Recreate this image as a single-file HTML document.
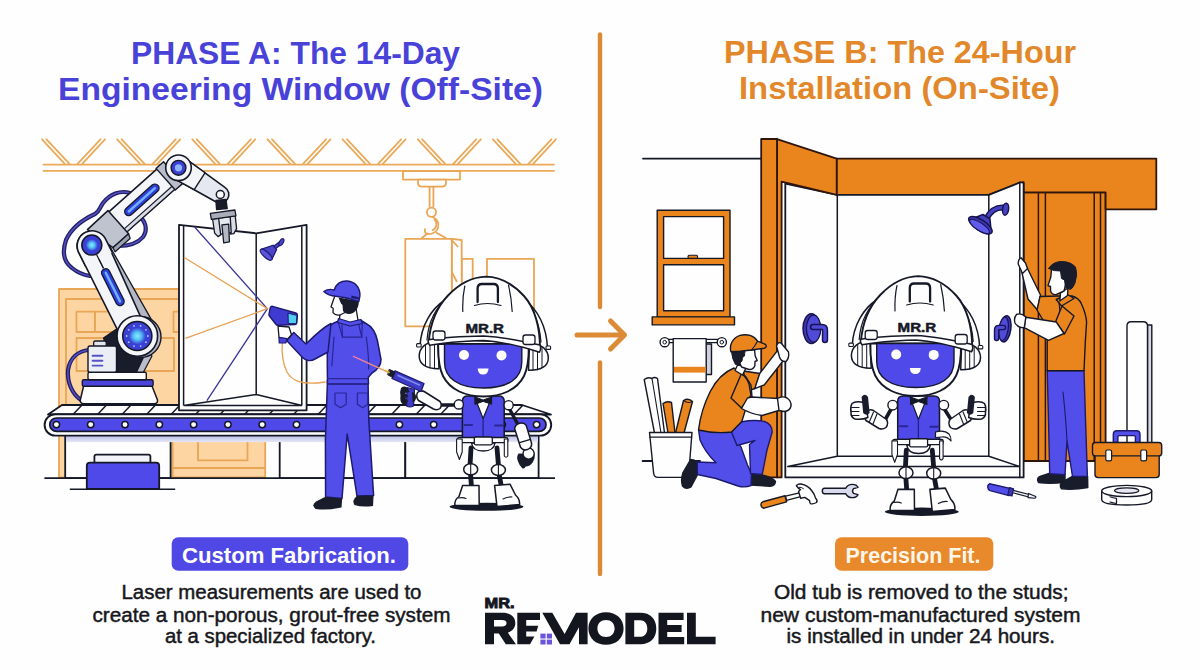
<!DOCTYPE html>
<html><head><meta charset="utf-8"><title>Phase A / Phase B</title>
<style>
html,body{margin:0;padding:0;background:#fefefe;}
body{width:1200px;height:670px;overflow:hidden;font-family:"Liberation Sans",sans-serif;}
svg{display:block;font-family:"Liberation Sans",sans-serif;}
</style></head><body>
<svg width="1200" height="670" viewBox="0 0 1200 670">
<rect width="1200" height="670" fill="#fefefe"/>
<!-- divider -->
<g stroke="#dc8a35" stroke-width="4.4" stroke-linecap="round" fill="none">
<line x1="600" y1="34.5" x2="600" y2="307"/>
<line x1="600" y1="362.5" x2="600" y2="574"/>
<line x1="577" y1="335" x2="623" y2="335" stroke-width="5"/>
<polyline points="610.5,321 624.5,335 610.5,349" stroke-width="5" stroke-linejoin="round"/>
</g>
<!-- titles -->
<g font-weight="700" font-size="31.5px" fill="#4942d8">
<text x="131" y="63.7" textLength="329" lengthAdjust="spacingAndGlyphs">PHASE A: The 14-Day</text>
<text x="58" y="99.5" textLength="485" lengthAdjust="spacingAndGlyphs">Engineering Window (Off-Site)</text>
</g>
<g font-weight="700" font-size="31.5px" fill="#e2882b">
<text x="724" y="63.4" textLength="352" lengthAdjust="spacingAndGlyphs">PHASE B: The 24-Hour</text>
<text x="739" y="99.2" textLength="321" lengthAdjust="spacingAndGlyphs">Installation (On-Site)</text>
</g>
<!-- pills -->
<rect x="171.7" y="537.3" width="236.6" height="33.4" rx="6.5" fill="#5048e5"/>
<text x="182" y="562.7" font-weight="700" font-size="22px" fill="#ffffff" textLength="214" lengthAdjust="spacingAndGlyphs">Custom Fabrication.</text>
<rect x="835" y="537.3" width="158.3" height="33.4" rx="6.5" fill="#e88a2c"/>
<text x="845.5" y="562.7" font-weight="700" font-size="22px" fill="#fff6e8" textLength="135" lengthAdjust="spacingAndGlyphs">Precision Fit.</text>
<!-- body text -->
<g font-size="19.6px" fill="#17171c" stroke="#17171c" stroke-width="0.45">
<text x="121.5" y="599" textLength="300" lengthAdjust="spacingAndGlyphs">Laser measurements are used to</text>
<text x="92.5" y="621.6" textLength="358" lengthAdjust="spacingAndGlyphs">create a non-porous, grout-free system</text>
<text x="165" y="643.3" textLength="211" lengthAdjust="spacingAndGlyphs">at a specialized factory.</text>
<text x="774" y="599" textLength="294.5" lengthAdjust="spacingAndGlyphs">Old tub is removed to the studs;</text>
<text x="760.5" y="621.6" textLength="320" lengthAdjust="spacingAndGlyphs">new custom-manufactured system</text>
<text x="786.5" y="643.3" textLength="268.5" lengthAdjust="spacingAndGlyphs">is installed in under 24 hours.</text>
</g>
<!-- truss -->
<g stroke="#ebaa5a" stroke-width="1.8" fill="none" stroke-linecap="round">
<line x1="42.0" y1="139.3" x2="65.0" y2="164.2"/>
<line x1="105.0" y1="139.3" x2="82.0" y2="164.2"/>
<line x1="46.5" y1="139.3" x2="69.7" y2="164.2"/>
<line x1="100.5" y1="139.3" x2="77.3" y2="164.2"/>
<line x1="117.2" y1="139.3" x2="140.2" y2="164.2"/>
<line x1="180.2" y1="139.3" x2="157.2" y2="164.2"/>
<line x1="121.7" y1="139.3" x2="144.8" y2="164.2"/>
<line x1="175.7" y1="139.3" x2="152.5" y2="164.2"/>
<line x1="192.3" y1="139.3" x2="215.3" y2="164.2"/>
<line x1="255.3" y1="139.3" x2="232.3" y2="164.2"/>
<line x1="196.8" y1="139.3" x2="220.0" y2="164.2"/>
<line x1="250.8" y1="139.3" x2="227.6" y2="164.2"/>
<line x1="267.5" y1="139.3" x2="290.5" y2="164.2"/>
<line x1="330.5" y1="139.3" x2="307.5" y2="164.2"/>
<line x1="272.0" y1="139.3" x2="295.2" y2="164.2"/>
<line x1="326.0" y1="139.3" x2="302.8" y2="164.2"/>
<line x1="342.6" y1="139.3" x2="365.6" y2="164.2"/>
<line x1="405.6" y1="139.3" x2="382.6" y2="164.2"/>
<line x1="347.1" y1="139.3" x2="370.3" y2="164.2"/>
<line x1="401.1" y1="139.3" x2="377.9" y2="164.2"/>
<line x1="417.8" y1="139.3" x2="440.8" y2="164.2"/>
<line x1="480.8" y1="139.3" x2="457.8" y2="164.2"/>
<line x1="422.2" y1="139.3" x2="445.4" y2="164.2"/>
<line x1="476.2" y1="139.3" x2="453.1" y2="164.2"/>
<line x1="492.9" y1="139.3" x2="515.9" y2="164.2"/>
<line x1="555.9" y1="139.3" x2="532.9" y2="164.2"/>
<line x1="497.4" y1="139.3" x2="520.6" y2="164.2"/>
<line x1="551.4" y1="139.3" x2="528.2" y2="164.2"/>
<line x1="43.5" y1="164.6" x2="554" y2="164.6"/>
<line x1="43.5" y1="170.9" x2="554" y2="170.9"/>
</g>
<!-- hoist and crates -->
<g stroke="#e8a656" stroke-width="1.8" fill="#fefefe" stroke-linejoin="round">
<rect x="403" y="171" width="57" height="8.6"/>
<path d="M418,179.6 H446 V183 Q446,186.6 442,186.6 H422 Q418,186.6 418,183 Z"/>
<line x1="429.6" y1="186.6" x2="429.6" y2="207.5"/><line x1="433.4" y1="186.6" x2="433.4" y2="207.5"/>
<circle cx="431.5" cy="212.3" r="4.6"/>
<path d="M432,217 C440,219 441,230 432,233.5 C427,235.5 423,232 425.5,228.5" fill="none" stroke-width="1.6"/>
<path d="M434,219 C437.5,222 437.5,228 432,230.5" fill="none"/>
<path d="M421,238.8 L428,233 M447,238.8 L436,232.5" fill="none"/>
<!-- crate 3 (right) -->
<rect x="487" y="258.8" width="47" height="70"/>
<!-- crate 2 small -->
<rect x="461.7" y="258.8" width="11" height="70"/>
<!-- crate 1 side -->
<path d="M451.8,238.8 L461.7,240 V327 H451.8 Z"/>
<path d="M451.8,240 L458,247 M451.8,272 L457,282" fill="none"/>
<!-- crate 1 front -->
<rect x="405.3" y="238.8" width="46.5" height="87.6"/>
</g>
<!-- peach door -->
<g stroke="#e8a656" stroke-width="1.8" fill="#fdd5a3" stroke-linejoin="round">
<rect x="59" y="289" width="120" height="188.5"/>
<rect x="172.6" y="430" width="92.6" height="47.5"/>
<path d="M66,414 V299 H179" fill="none"/>
<rect x="76.5" y="311.7" width="18.5" height="20.3" fill="none"/>
<rect x="95" y="311.7" width="30" height="20.3" fill="none"/>
<rect x="173.5" y="311.7" width="6" height="20.3" fill="none"/>
<rect x="76.5" y="338" width="97.5" height="33" fill="none"/>
<path d="M198,436 V460.4 H247.5 V436" fill="none"/>
<line x1="172.6" y1="468" x2="265" y2="468"/>
</g>
<!-- conveyor -->
<g stroke="#151826" stroke-width="1.8" fill="#fefefe" stroke-linejoin="round">
<rect x="65.2" y="436" width="105.4" height="42.2"/>
<rect x="279.7" y="436" width="125.6" height="42.2"/>
<rect x="405.3" y="436" width="133.3" height="42.2"/>
</g>
<line x1="44.4" y1="478.2" x2="555" y2="478.2" stroke="#151826" stroke-width="1.8"/>
<defs><linearGradient id="cshadow" x1="0" y1="0" x2="0" y2="1"><stop offset="0" stop-color="#b9bde6"/><stop offset="1" stop-color="#e6e8f6"/></linearGradient></defs>
<rect x="66" y="435.5" width="472" height="6.6" fill="url(#cshadow)"/>
<path d="M62,405 H522 L551,414.5 H48 Z" fill="#fefefe" stroke="#151826" stroke-width="1.8" stroke-linejoin="round"/>
<g stroke="#151826" stroke-width="1.5">
<line x1="82.0" y1="405" x2="73.0" y2="414.5"/>
<line x1="106.5" y1="405" x2="97.5" y2="414.5"/>
<line x1="131.0" y1="405" x2="122.0" y2="414.5"/>
<line x1="155.5" y1="405" x2="146.5" y2="414.5"/>
<line x1="180.0" y1="405" x2="171.0" y2="414.5"/>
<line x1="204.5" y1="405" x2="195.5" y2="414.5"/>
<line x1="229.0" y1="405" x2="220.0" y2="414.5"/>
<line x1="253.5" y1="405" x2="244.5" y2="414.5"/>
<line x1="278.0" y1="405" x2="269.0" y2="414.5"/>
<line x1="302.5" y1="405" x2="293.5" y2="414.5"/>
<line x1="327.0" y1="405" x2="318.0" y2="414.5"/>
<line x1="351.5" y1="405" x2="342.5" y2="414.5"/>
<line x1="376.0" y1="405" x2="367.0" y2="414.5"/>
<line x1="400.5" y1="405" x2="391.5" y2="414.5"/>
<line x1="425.0" y1="405" x2="416.0" y2="414.5"/>
<line x1="449.5" y1="405" x2="440.5" y2="414.5"/>
<line x1="474.0" y1="405" x2="465.0" y2="414.5"/>
<line x1="498.5" y1="405" x2="489.5" y2="414.5"/>
<line x1="523.0" y1="405" x2="514.0" y2="414.5"/>
</g>
<rect x="44.6" y="414.2" width="506.6" height="21.4" rx="10.7" fill="#fefefe" stroke="#151826" stroke-width="1.9"/>
<rect x="49.8" y="418" width="496.2" height="13.4" rx="6.7" fill="#4f49ea" stroke="#151826" stroke-width="1.7"/>
<g fill="#fefefe" stroke="#151826" stroke-width="1.5">
<circle cx="56.4" cy="424.6" r="3.2"/>
<circle cx="90.7" cy="424.6" r="3.2"/>
<circle cx="125.0" cy="424.6" r="3.2"/>
<circle cx="159.3" cy="424.6" r="3.2"/>
<circle cx="193.6" cy="424.6" r="3.2"/>
<circle cx="227.9" cy="424.6" r="3.2"/>
<circle cx="262.2" cy="424.6" r="3.2"/>
<circle cx="296.5" cy="424.6" r="3.2"/>
<circle cx="330.8" cy="424.6" r="3.2"/>
<circle cx="365.1" cy="424.6" r="3.2"/>
<circle cx="399.4" cy="424.6" r="3.2"/>
<circle cx="433.7" cy="424.6" r="3.2"/>
<circle cx="468.0" cy="424.6" r="3.2"/>
<circle cx="502.3" cy="424.6" r="3.2"/>
<circle cx="536.6" cy="424.6" r="3.2"/>
</g>
<rect x="94.4" y="454.6" width="56" height="10" rx="2" fill="#f3f4fa" stroke="#151826" stroke-width="1.8"/>
<path d="M86.8,488.9 V466 Q86.8,462.7 90,462.7 H156 Q159.2,462.7 159.2,466 V488.9 Z" fill="#4f49ea" stroke="#151826" stroke-width="1.8"/>
<line x1="69.8" y1="489.2" x2="175.2" y2="489.2" stroke="#151826" stroke-width="1.6"/>
<!-- shower panel on conveyor -->
<g stroke="#151826" stroke-width="1.8" stroke-linejoin="round" fill="#fefefe">
<path d="M179,224.8 L256.2,233.3 L306.6,224.8 V410.3 H179 Z"/>
<path d="M183.6,405.4 H302 M183.6,405.4 L256.2,394.5 L302,405.4 M256.2,233.3 V394.5" fill="none" stroke-width="1.5"/>
<path d="M183.6,226 V405.4 M301.8,226.5 V405.4" fill="none" stroke-width="1.5"/>
</g>
<!-- laser lines -->
<g fill="none" stroke-width="1.3">
<path d="M194.6,227 L267.4,308.7 L206.9,400.6" stroke="#3a3799"/>
<path d="M183.9,257.2 L267.4,308.7 L185.3,338.4" stroke="#e8a052"/>
</g>
<!-- small shower head -->
<g stroke="#1e1a6e" stroke-width="1.2" fill="#4a45c8" stroke-linejoin="round" stroke-linecap="round">
<path d="M274.5,247.5 L280.5,243" fill="none" stroke-width="4.2"/>
<path d="M274.5,247.5 L280.5,243" fill="none" stroke="#4a45c8" stroke-width="2"/>
<ellipse cx="281.4" cy="242.2" rx="1.9" ry="3.8" transform="rotate(28 281.4 242.2)"/>
<path d="M261,249.4 L273,245.2 L276.6,249.6 L271.8,259.6 Z"/>
<ellipse cx="266.2" cy="254.7" rx="7.5" ry="2.7" fill="#5a55e0" transform="rotate(42 266.2 254.7)"/>
</g>
<!-- robot arm -->
<defs><radialGradient id="jglow"><stop offset="0" stop-color="#8fe6ff"/><stop offset="0.45" stop-color="#57c4f5"/><stop offset="1" stop-color="#3a3fd6"/></radialGradient><linearGradient id="pillg" x1="0" y1="0" x2="1" y2="0"><stop offset="0" stop-color="#2e3fd8"/><stop offset="0.5" stop-color="#6aa8ff"/><stop offset="1" stop-color="#2e3fd8"/></linearGradient></defs>
<path d="M130,193 C120,190 110,194 103,203 C99,209 99,212 95,214 C84,219 72,227 66,240 C62,252 64,262 72,268 C78,273 84,275 90,276" fill="none" stroke="#232066" stroke-width="4.2" stroke-linecap="round"/><path d="M130,193 C120,190 110,194 103,203 C99,209 99,212 95,214 C84,219 72,227 66,240 C62,252 64,262 72,268 C78,273 84,275 90,276" fill="none" stroke="#5550c0" stroke-width="1.5" stroke-linecap="round"/>
<path d="M138,216 C146,220 148,230 143,237 C138,243 128,246 118,246" fill="none" stroke="#232066" stroke-width="4.2" stroke-linecap="round"/><path d="M138,216 C146,220 148,230 143,237 C138,243 128,246 118,246" fill="none" stroke="#5550c0" stroke-width="1.5" stroke-linecap="round"/>
<path d="M89,350 C78,351 70,358 68,370 C67,382 72,394 81,400" fill="none" stroke="#232066" stroke-width="4.2" stroke-linecap="round"/><path d="M89,350 C78,351 70,358 68,370 C67,382 72,394 81,400" fill="none" stroke="#5550c0" stroke-width="1.5" stroke-linecap="round"/>
<path d="M83.6,386 H152 L157.5,400 Q158,403.8 154,403.8 H84 Q80,403.8 80.3,400 Z" fill="#fefefe" stroke="#151826" stroke-width="1.5" stroke-linejoin="round"/>
<rect x="82.3" y="379.7" width="70.8" height="6.6" rx="1.5" fill="#4a44dc" stroke="#151826" stroke-width="1.4"/>
<rect x="88" y="372.3" width="58.3" height="7.4" rx="1.5" fill="#fefefe" stroke="#151826" stroke-width="1.4"/>
<path d="M103.5,338 L118,328 L150,340 L148,358 L140,372 H114 Z" fill="#181c2b" stroke="#151826" stroke-width="1.2" stroke-linejoin="round"/>
<path d="M146,352 L152,356 L143.5,372 H136.5 Z" fill="#b9bdc9" stroke="#151826" stroke-width="1.2" stroke-linejoin="round"/>
<rect x="93.7" y="341" width="12.5" height="6" rx="1.5" fill="#e3e5ee" stroke="#151826" stroke-width="1.3"/>
<rect x="88" y="346" width="28.5" height="26.2" rx="2" fill="#eceef5" stroke="#151826" stroke-width="1.4"/>
<g stroke="#5552c6" stroke-width="1.9" stroke-linecap="round"><line x1="92.6" y1="355.7" x2="102.4" y2="355.7"/><line x1="92.6" y1="360.7" x2="102.4" y2="360.7"/><line x1="92.6" y1="365.6" x2="102.4" y2="365.6"/></g>
<polygon points="109.2,245.3 156.5,328.6 152.5,341.8 104.3,250.0" fill="#b4b8c5" stroke="#151826" stroke-width="1.3" stroke-linejoin="round"/>
<path d="M78.4,251.8 L123.9,342.7 L147.1,331.1 L105.2,238.4 A15,15 0 0 0 78.4,251.8 Z" fill="#f4f5f9" stroke="#151826" stroke-width="1.6" stroke-linejoin="round"/>
<line x1="98.1" y1="257.6" x2="103.4" y2="268.3" stroke="#151826" stroke-width="1.2"/>
<line x1="105.7" y1="272.8" x2="120.0" y2="301.4" stroke="#151826" stroke-width="9.6" stroke-linecap="round"/><line x1="105.7" y1="272.8" x2="120.0" y2="301.4" stroke="#2f3fdb" stroke-width="7" stroke-linecap="round"/><line x1="105.7" y1="272.8" x2="120.0" y2="301.4" stroke="#6fb0ff" stroke-width="2.4" stroke-linecap="round"/>
<circle cx="140.5" cy="337" r="20.5" fill="#b4b8c5" stroke="#151826" stroke-width="1.4"/>
<circle cx="137.3" cy="336" r="20.3" fill="#f4f5f9" stroke="#151826" stroke-width="1.6"/>
<circle cx="137.3" cy="336" r="14.6" fill="#3b3fd6" stroke="#151826" stroke-width="1.5"/>
<circle cx="147.9" cy="336.0" r="0.9" fill="#9fd0ff"/><circle cx="145.9" cy="342.2" r="0.9" fill="#9fd0ff"/><circle cx="140.6" cy="346.1" r="0.9" fill="#9fd0ff"/><circle cx="134.0" cy="346.1" r="0.9" fill="#9fd0ff"/><circle cx="128.7" cy="342.2" r="0.9" fill="#9fd0ff"/><circle cx="126.7" cy="336.0" r="0.9" fill="#9fd0ff"/><circle cx="128.7" cy="329.8" r="0.9" fill="#9fd0ff"/><circle cx="134.0" cy="325.9" r="0.9" fill="#9fd0ff"/><circle cx="140.6" cy="325.9" r="0.9" fill="#9fd0ff"/><circle cx="145.9" cy="329.8" r="0.9" fill="#9fd0ff"/>
<circle cx="137.3" cy="336" r="8.5" fill="url(#jglow)"/>
<polygon points="107.4,213.1 158.2,167.8 176.2,188.0 125.4,233.2" fill="#f4f5f9" stroke="#151826" stroke-width="1.6" stroke-linejoin="round"/>
<polygon points="122.8,230.2 173.5,185.0 176.2,188.0 125.4,233.2" fill="#d9dce5" stroke="#151826" stroke-width="1.1" stroke-linejoin="round"/>
<polygon points="156.0,168.4 163.5,161.7 182.8,183.4 175.3,190.0" fill="#b9bdc9" stroke="#151826" stroke-width="1.4" stroke-linejoin="round"/>
<line x1="128.8" y1="211.5" x2="154.9" y2="188.2" stroke="#151826" stroke-width="9.6" stroke-linecap="round"/><line x1="128.8" y1="211.5" x2="154.9" y2="188.2" stroke="#2f3fdb" stroke-width="7" stroke-linecap="round"/><line x1="128.8" y1="211.5" x2="154.9" y2="188.2" stroke="#6fb0ff" stroke-width="2.4" stroke-linecap="round"/>
<polygon points="87.4,229.6 107.9,210.6 128.6,233.8 112.9,247.7" fill="#bfc3ce" stroke="#151826" stroke-width="1.5" stroke-linejoin="round"/>
<polygon points="128.6,233.8 112.9,247.7 115.1,251.8 130.1,238.4" fill="#9da2b0" stroke="#151826" stroke-width="1.3" stroke-linejoin="round"/>
<path d="M78.4,251.8 A15,15 0 0 1 105.2,238.4 L112.4,252.7 L85.5,266.1 Z" fill="#f4f5f9" stroke="none"/>
<path d="M85.5,266.1 L78.4,251.8 A15,15 0 0 1 105.2,238.4 L112.4,252.7" fill="none" stroke="#151826" stroke-width="1.6"/>
<circle cx="91.8" cy="245.1" r="10" fill="#3b3fd6" stroke="#151826" stroke-width="1.5"/>
<circle cx="91.8" cy="245.1" r="6" fill="url(#jglow)"/>
<line x1="96.5" y1="254.5" x2="103.4" y2="268.3" stroke="#151826" stroke-width="1.2"/>
<path d="M184.7,158.1 L224.9,187.3 A8.5,8.5 0 0 1 215.7,201.7 L172.3,177.5 Z" fill="#e6e8ef" stroke="#151826" stroke-width="1.6" stroke-linejoin="round"/>
<path d="M184.7,158.1 L205.0,172.8 L194.2,189.7 L172.3,177.5 Z" fill="#f4f5f9" stroke="#151826" stroke-width="1.4" stroke-linejoin="round"/>
<circle cx="220.3" cy="194.5" r="4" fill="#fefefe" stroke="#151826" stroke-width="1.5"/>
<circle cx="178.5" cy="167.8" r="12.8" fill="#f4f5f9" stroke="#151826" stroke-width="1.6"/>
<circle cx="178.5" cy="167.8" r="7.4" fill="#3b3fd6" stroke="#151826" stroke-width="1.4"/>
<circle cx="178.5" cy="167.8" r="3.6" fill="#8fb4ff"/>
<!-- gripper -->
<g stroke="#151826" stroke-width="1.3" stroke-linejoin="round">
<path d="M215.9,200.5 L226,199.5 L227.2,208.5 L216.6,209.6 Z" fill="#181c2b"/>
<path d="M212.6,219 L219.6,218 L221,234.6 L218,236.6 L214.6,233 Z" fill="#d9dce4"/>
<path d="M229.2,216.6 L235.2,215.6 L236.6,228.6 L233.8,233.6 L230.6,234 Z" fill="#d9dce4"/>
<path d="M218.6,218.2 L230.2,216.6 L231.2,232.6 L220.6,234.2 Z" fill="#e6e8ef"/>
<path d="M210.3,213.4 L234.9,210 L236,215.8 L211.4,219.4 Z" fill="#a9adb9"/>
<path d="M221.9,224.8 L228.7,224.1 L229.4,241.8 L223.7,242.8 Z" fill="#b5b9c5"/>
</g>
<!-- worker (left scene) -->
<g stroke-linejoin="round" stroke-linecap="round">
<!-- scanner cable -->
<path d="M282.4,342 C281.5,352 282,362 287,372 C292,381 302,385.5 325,382" fill="none" stroke="#e8a052" stroke-width="1.3"/>
<!-- legs -->
<path d="M327.5,380 L325.4,440 L325.6,497 L342,498.5 L347.2,434 L357,496 L373.6,495.5 L368.8,420 L368,380 Z" fill="#514eea" stroke="#1e1a6e" stroke-width="1.5"/>
<!-- shoes -->
<path d="M325,497 L342.2,498.5 L341.5,507.5 Q328,510.5 315.5,509 Q311,505 316,501.5 Z" fill="#181c2b"/>
<path d="M356.8,496 L373.6,495.5 L373,506 Q362,507.5 354.5,505 Q351.5,500.5 356.8,496 Z" fill="#181c2b"/>
<!-- torso -->
<path d="M337.5,321.5 L350,319.5 L361,320.5 L366,323.5 C373,327 376,334 377.5,341 L381,359.5 C381,366 377,370 372,373 L368.2,377.5 L368.5,384 H327.5 L327.3,366 V340 L326.5,329 C330,325 333,323 337.5,321.5 Z" fill="#514eea" stroke="#1e1a6e" stroke-width="1.5"/>
<!-- overalls lines -->
<g fill="none" stroke="#2a2694" stroke-width="1.2">
<path d="M338.5,323 L342.5,337.2 H361.8 L362.2,323.5"/>
<path d="M342.5,337.2 L342,325 M361.8,337.2 L358.5,324"/>
<path d="M334,337 L331.8,366 M366.3,337 C368,350 369,360 368.6,369"/>
<path d="M327.5,378.6 H368.2 M327.5,383.9 H368.5"/>
<path d="M335,393 H346.2 V404.3 L340.6,407.7 L335,404.3 Z"/>
<path d="M357.4,393 H367.8 V404.3 L362.6,407.7 L357.4,404.3 Z"/>
</g>
<!-- left arm reaching to scanner -->
<path d="M331,323.5 C322,328 312,338 306,344 L293.8,332.5 L286.6,340.5 L302.5,357.5 C306,361 311,361.5 315,359 L328,352 Z" fill="#514eea" stroke="#1e1a6e" stroke-width="1.5"/>
<!-- hand -->
<path d="M278,326 L289,327 L291.5,334.8 L287,339.6 L279,337.4 Z" fill="#fefefe" stroke="#151826" stroke-width="1.3"/>
<path d="M279,337.4 L287,338.6 L285.8,343 H279.2 Z" fill="#4a44dc" stroke="#1e1a6e" stroke-width="1.2"/>
<!-- scanner -->
<path d="M270.3,307.6 Q270.8,306 272.5,306.3 L295.8,313 Q297.4,313.6 297.4,315.2 L296.8,323 Q296.6,324.6 295,324.5 L278,325.2 Q276.5,325.2 275.7,324 L269.4,316 Q268.7,315 269,313.8 Z" fill="#3f3bd0" stroke="#1e1a6e" stroke-width="1.4"/>
<path d="M288.3,313.2 L296.9,315.4 L296.4,323.6 L288.6,323.6 Z" fill="#4fd0f0" stroke="#1e1a6e" stroke-width="1"/>
<!-- neck/head -->
<path d="M340,312 L339.5,320 L350,323 L358,320.5 L356,308 Z" fill="#fefefe" stroke="#151826" stroke-width="1.3"/>
<path d="M335,295.5 L333,301 L331,307 L333.2,308.2 L333,312.5 Q335,315.5 340,315 L346,312 L346,296 Z" fill="#fefefe" stroke="#151826" stroke-width="1.3"/>
<!-- hair -->
<path d="M338.5,297.5 L358.8,301 C359,306 357,310.5 353,313 C349,315 345,314 343,311 L342.5,305 L341,303.5 Z" fill="#181c2b"/>
<!-- collar -->
<path d="M338.5,318.5 L350,322 L361,319.5 L362.5,323.5 L350,326 L337.5,322.5 Z" fill="#514eea" stroke="#1e1a6e" stroke-width="1.2"/>
<!-- cap -->
<path d="M323.8,291.6 Q328.5,288.2 334.2,290 C336,283.5 341.5,280.6 347.2,281 C355,281.6 360.4,287.5 359.9,296 L358.8,301.6 L347,298 L336,296.2 Q328.5,296 323.8,291.6 Z" fill="#514eea" stroke="#1e1a6e" stroke-width="1.4"/>
<path d="M351.5,295.6 L358.8,297.2 L358.4,299.6 L351.2,298 Z" fill="#1e1a6e"/>
</g>
<!-- pink laser -->
<defs><linearGradient id="pinkl" x1="0" y1="0" x2="1" y2="0"><stop offset="0" stop-color="#f07ab0"/><stop offset="1" stop-color="#f0a040"/></linearGradient></defs>
<line x1="352.9" y1="356.2" x2="389.5" y2="372.8" stroke="url(#pinkl)" stroke-width="1.3"/>
<!-- mascot definition -->
<defs>
<g id="mhead" stroke-linejoin="round" stroke-linecap="round">
<!-- ear muff bands (behind) -->
<path d="M445,300 C431,309 421,326 420,346" fill="none" stroke="#151826" stroke-width="1.5"/>
<path d="M449,297 C437,306 428.5,320 427,340" fill="none" stroke="#151826" stroke-width="1.2"/>
<path d="M523,298 C537,309 546.5,326 547.5,348" fill="none" stroke="#151826" stroke-width="1.5"/>
<path d="M519,295 C531,305 539.5,320 541,342" fill="none" stroke="#151826" stroke-width="1.2"/>
<!-- ear muffs -->
<path d="M438,341.5 C426,341 419.2,348 419.2,356 C419.2,364 426,369 439,368.8 Z" fill="#fefefe" stroke="#151826" stroke-width="1.5"/>
<path d="M425.5,345.5 V366 M430,343 V368 M434.5,342 V368.6" fill="none" stroke="#151826" stroke-width="1"/>
<path d="M529.5,343.5 C541.5,343 548.3,350 548.3,358 C548.3,366 541.5,370.5 528.5,370.3 Z" fill="#fefefe" stroke="#151826" stroke-width="1.5"/>
<path d="M542,347.5 V367.5 M537.5,345 V369.8 M533,344 V370.2" fill="none" stroke="#151826" stroke-width="1"/>
<rect x="416.6" y="343.6" width="4.6" height="3.4" rx="1" fill="#fefefe" stroke="#151826" stroke-width="1.1"/>
<rect x="546" y="346" width="4.6" height="3.4" rx="1" fill="#fefefe" stroke="#151826" stroke-width="1.1"/>
<!-- head -->
<path d="M438.2,344 C438,358 439,368 443,376 C450,390 466,396.5 483.6,396.5 C501,396.5 517,390 524,376 C528,368 529,358 528.8,344 Z" fill="#fefefe" stroke="#151826" stroke-width="1.9"/>
<path d="M444.5,344 V362 C444.5,378 458,388 483.6,388 C509,388 521.8,378 521.8,362 V344 Z" fill="#4f49ea" stroke="#151826" stroke-width="1.4"/>
<circle cx="464" cy="355" r="5" fill="#fefefe"/><circle cx="501.5" cy="355.4" r="5" fill="#fefefe"/>
<path d="M477.7,368.6 H488.5 Q488.3,374.6 483.1,374.6 Q477.9,374.6 477.7,368.6 Z" fill="#fefefe"/>
<!-- helmet dome -->
<path d="M428.7,342 C430,326 436,308 448,295.5 C458,285 471,277 486,276.6 C501,277 514,285 524,296 C535,308 540,328 540,348 L514,343.5 Q484,338.5 448,341.5 Z" fill="#fefefe" stroke="#151826" stroke-width="1.9"/>
<!-- brim -->
<path d="M428.5,339.8 Q427.5,343 429.8,345.2 Q448,341.6 483.6,340.4 Q505,341.5 539.5,352.2 Q541.5,349 540,345 Q505,337 483.6,336 Q448,336.5 428.5,339.8 Z" fill="#fefefe" stroke="#151826" stroke-width="1.5"/>
<!-- helmet clips -->
<rect x="433" y="331" width="12" height="9" rx="2.5" fill="#fefefe" stroke="#151826" stroke-width="1.3"/>
<rect x="523" y="335" width="12" height="9.5" rx="2.5" fill="#fefefe" stroke="#151826" stroke-width="1.3"/>
<!-- ridges -->
<path d="M477.6,302 V288.5 Q477.6,284 482,284 H493.5 Q497.9,284 497.9,288.5 V302" fill="none" stroke="#151826" stroke-width="2.3"/>
<path d="M474.5,305.5 Q487.5,301.5 501,305.5" fill="none" stroke="#151826" stroke-width="1.2"/>
<path d="M464.8,286 C463,294 462.5,303 462.8,311.5 M508.5,285 C510.5,294 511.8,303 512.2,311.5" fill="none" stroke="#151826" stroke-width="1.2"/>
<text x="465.4" y="332.8" font-weight="700" font-size="13px" fill="#151826" stroke="#151826" stroke-width="0.5" textLength="38.6" lengthAdjust="spacingAndGlyphs">MR.R</text>
</g>
<g id="mbody" stroke-linejoin="round" stroke-linecap="round">
<!-- shadow -->
<ellipse cx="486.5" cy="506.8" rx="37" ry="4" fill="#151826"/>
<!-- legs -->
<path d="M471,448 L470,466 M497,448 L498.5,466" stroke="#151826" stroke-width="4.8" fill="none"/>
<path d="M470.5,474 L471.5,487 M499,474 L501.5,487" stroke="#151826" stroke-width="4.8" fill="none"/>
<ellipse cx="470.7" cy="469.4" rx="7" ry="5.6" fill="#fefefe" stroke="#151826" stroke-width="1.5"/>
<ellipse cx="498.4" cy="470" rx="7" ry="5.6" fill="#fefefe" stroke="#151826" stroke-width="1.5"/>
<path d="M470.7,464 V475 M498.4,464.5 V475.5" stroke="#151826" stroke-width="1.1" fill="none"/>
<!-- boots -->
<path d="M462.6,485.4 H479 L479.2,505.6 H455 Q454,500 459,496.5 Z" fill="#fefefe" stroke="#151826" stroke-width="1.5"/>
<path d="M494.6,485.4 L510,484.2 L515.5,495 Q520,499 519.6,504.6 L497,506.6 Z" fill="#fefefe" stroke="#151826" stroke-width="1.5"/>
<path d="M458.5,498 Q463,497 466,498.5 M503,499 Q508,496.5 512,497" fill="none" stroke="#151826" stroke-width="1.1"/>
<!-- pelvis -->
<path d="M471.5,443 H495 Q494,451 483.2,451 Q472.5,451 471.5,443 Z" fill="#fefefe" stroke="#151826" stroke-width="1.4"/>
<!-- neck -->
<rect x="480" y="391" width="7" height="8" fill="#151826"/>
<!-- vest -->
<path d="M462.4,401 Q462.4,396 468,396 H498.5 Q504.2,396 504.2,401 V437.6 H462.4 Z" fill="#4f49ea" stroke="#151826" stroke-width="1.5"/>
<path d="M474.3,396.2 L483.1,418.5 L492.2,396.2 Z" fill="#fefefe" stroke="#151826" stroke-width="1.2"/>
<path d="M483.1,418.5 V436.5" stroke="#221f80" stroke-width="1.2" fill="none"/>
<path d="M464.5,425 H472 M495,425.5 H502.5" stroke="#2a2694" stroke-width="2" fill="none"/>
<!-- bow tie -->
<path d="M475.2,397 L483.1,400 L491.6,397 V404.2 L483.1,401.4 L475.2,404.2 Z" fill="#151826" stroke="#151826" stroke-width="1"/>
<!-- belt -->
<rect x="457.6" y="437.6" width="50.2" height="5" rx="1.5" fill="#fefefe" stroke="#151826" stroke-width="1.3"/>
<rect x="474.3" y="437" width="18" height="7.8" rx="1.5" fill="#fefefe" stroke="#151826" stroke-width="1.3"/>
<path d="M456.6,439 H462.2 V452 L459.4,459.5 L456.6,452 Z" fill="#fefefe" stroke="#151826" stroke-width="1.1"/>
<path d="M504.3,439 H507.8 V456 Q506,458.5 504.3,456 Z" fill="#fefefe" stroke="#151826" stroke-width="1.1"/>
</g>
</defs>
<!-- left mascot -->
<g stroke-linejoin="round" stroke-linecap="round">
<!-- right-hanging arm -->
<path d="M509,408 L519,426.5" stroke="#151826" stroke-width="3.4" fill="none"/>
<path d="M518.6,453.5 Q516,457 518,461.5 Q519.5,466 522.5,468.4 Q525,468.8 525.6,466.5 Q530,466.5 533,462 Q535.5,458 534.6,454 Z" fill="#181c2b"/>
<circle cx="528.6" cy="453.6" r="5.6" fill="#fefefe" stroke="#151826" stroke-width="1.4"/>
<path d="M514.6,428.6 Q515,424.6 519.6,423.2 Q524.2,422 526.2,425.4 L531.6,443.4 Q532,448 527.4,449.6 Q522.6,450.8 520.6,447.4 Z" fill="#fefefe" stroke="#151826" stroke-width="1.5"/>
<path d="M519.6,442.6 L530.4,439.4" stroke="#151826" stroke-width="1.2" fill="none"/>
<!-- left arm with drill -->
<path d="M439,405 H457" stroke="#151826" stroke-width="3.6" fill="none"/>
<path d="M417.5,392.5 Q421,389.5 425,392 L440,401.5 Q442.5,405 440,408.5 Q437,410.5 433.5,409 L418.5,400.5 Q415.5,396.5 417.5,392.5 Z" fill="#fefefe" stroke="#151826" stroke-width="1.5"/>
</g>
<use href="#mbody"/>
<circle cx="458.8" cy="404.4" r="4.6" fill="#fefefe" stroke="#151826" stroke-width="1.4"/>
<circle cx="508.6" cy="405.2" r="4.6" fill="#fefefe" stroke="#151826" stroke-width="1.4"/>
<use href="#mhead"/>
<!-- drill -->
<g stroke-linejoin="round" stroke-linecap="round">
<path d="M407,387.5 L414.5,389.5 L413.5,406 Q410,408 406.5,406 Z" fill="#3f3bc8" stroke="#1e1a6e" stroke-width="1.2"/>
<path d="M401,388 Q405,385 408,388.5 L409.5,392 L405,393 L408.5,396 L405.5,398 L408,401 Q406,405.5 402.5,404 Q399.5,401 400.5,396 Q399.5,392 401,388 Z" fill="#181c2b"/>
<path d="M412,392 Q416.5,393 416,398 Q415.5,402 412.5,402 Z" fill="#181c2b"/>
<path d="M395,370.8 L424,383.5 L421,391.5 L392,378.5 Z" fill="#3f3bc8" stroke="#1e1a6e" stroke-width="1.3"/>
<path d="M398,375.5 L419.5,385" stroke="#7b8cf0" stroke-width="1.6" fill="none"/>
<path d="M389.5,369.5 L395,372 L393,377.5 L388,375 Z" fill="#181c2b" stroke="#181c2b" stroke-width="1"/>
<path d="M389,372.3 L385.5,370.7" stroke="#e8b040" stroke-width="1.6" fill="none"/>
</g>
<!-- right scene structure -->
<g stroke="#151826" stroke-width="1.8" stroke-linejoin="round" stroke-linecap="round">
<!-- wall top line -->
<line x1="643" y1="158.6" x2="761" y2="158.6"/>
<!-- floor/wall line -->
<line x1="642.6" y1="461" x2="700" y2="461"/>
<!-- stud wall (right) -->
<path d="M1023.6,192.3 H1105.6 V461 H1023.6 Z" fill="#ea851d" stroke="#2e160d"/>
<path d="M1038.4,192.3 V461 M1045.4,192.3 V461 M1094.2,192.3 V461 M1100.5,192.3 V461" fill="none" stroke-width="1.5" stroke="#2e160d"/>
<!-- header -->
<path d="M836.5,158.6 H1156.3 V209.3 H1105.6 V192.3 H1023.6 V182.2 L988.8,194.9 H836.5 Z" fill="#ea851d" stroke="#2e160d"/>
<!-- enclosure white panels -->
<path d="M785.3,183.5 L837.3,194.9 H988.8 L1020.6,182.2 L1023.6,183 V477.4 H785.3 Z" fill="#fefefe"/>
<path d="M837.3,194.9 V456.3 H988.8 V194.9 M837.3,456.3 L787.8,466.5 H1019.3 L988.8,456.3 M1019.8,183 V477.4" fill="none" stroke-width="1.5"/>
<!-- slanted header over left panel -->
<path d="M777,139.2 L836.7,158.7 V194.9 L781.6,181.7 V477.4 H777 Z" fill="#ea851d" stroke="#2e160d"/>
<!-- post -->
<path d="M761.2,139 H777 V477.4 H761.2 Z" fill="#ea851d" stroke="#2e160d"/>
</g>
<!-- window -->
<g stroke="#151826" stroke-width="1.4" stroke-linejoin="round" stroke-linecap="round">
<rect x="657.2" y="210.2" width="72.8" height="107" fill="#ea851d"/>
<rect x="663.6" y="216.6" width="60" height="41.8" fill="#fefefe"/>
<rect x="663.6" y="264.8" width="60" height="46" fill="#fefefe"/>
<rect x="688" y="255.2" width="9.6" height="3.2" rx="1.4" fill="#ea851d" stroke-width="1.1"/>
<rect x="652.2" y="316.9" width="82.3" height="8" fill="#ea851d"/>
</g>
<!-- towel bar -->
<g stroke="#151826" stroke-width="1.4" stroke-linejoin="round" stroke-linecap="round">
<line x1="664.7" y1="341" x2="721.8" y2="341" stroke-width="4.4"/>
<line x1="664.7" y1="341" x2="721.8" y2="341" stroke="#fefefe" stroke-width="2"/>
<circle cx="664.7" cy="342.2" r="4.6" fill="#fefefe"/><circle cx="664.7" cy="342.2" r="1.8" fill="#fefefe" stroke-width="1"/>
<circle cx="721.8" cy="342.2" r="4.6" fill="#fefefe"/><circle cx="721.8" cy="342.2" r="1.8" fill="#fefefe" stroke-width="1"/>
<rect x="705.5" y="344" width="6" height="30.5" fill="#cfd2dc"/>
<rect x="673.2" y="338.6" width="33" height="43.4" fill="#fefefe"/>
<rect x="673.9" y="366.8" width="31.6" height="5.8" fill="#ea851d" stroke="none"/>
</g>
<!-- bucket and rolls -->
<g stroke="#151826" stroke-width="1.4" stroke-linejoin="round" stroke-linecap="round">
<path d="M644.2,379.5 Q648,376.5 652,378.5 Q654.5,376.5 657.5,378.5 L664.5,433 H654.5 Z" fill="#fefefe"/>
<path d="M652,378.5 L661,433" fill="none" stroke-width="1.1"/>
<path d="M663,403.5 Q667,400.5 671.5,402.5 L675,433 H668 Z" fill="#ea851d"/>
<path d="M683.5,400.5 Q688.5,397.5 692.5,401.5 L684,433 H675.5 Z" fill="#ea851d"/>
<path d="M683.5,400.5 Q688,404 692.5,401.5" fill="none" stroke-width="1.1"/>
<path d="M649.5,432.5 H692 L688.8,473 Q688.5,477.4 684.5,477.4 H658 Q654,477.4 653.6,473 Z" fill="#fefefe"/>
<path d="M650,437.2 H691.6" fill="none" stroke-width="1.2"/>
</g>
<!-- kneeling worker -->
<g stroke="#151826" stroke-width="1.4" stroke-linejoin="round" stroke-linecap="round">
<!-- far arm reaching up to post -->
<path d="M743.3,371 L760,373.5 L755,388.5 L747,391 Z" fill="#ea851d"/>
<path d="M759.7,373.5 L777.6,350.4 L783.8,360 L764.2,385 L754.8,388.6 Z" fill="#fefefe"/>
<path d="M776.5,346 Q778,341 781.5,343.5 L788.5,352 Q789.5,358 786,361.5 Q781,362 779.5,357 Z" fill="#fefefe"/>
<!-- back shoe -->
<path d="M690.6,459.5 Q694.5,459.5 697.4,462.2 L697.6,474.5 L691,487 Q686,490 682.5,486 Q680.5,480 683,472.5 Z" fill="#181c2b" stroke="#181c2b"/>
<!-- front shoe -->
<path d="M750.5,474 L764,475.5 Q773,478 775.5,481.5 Q775,486 770,486.3 L750.5,485 Z" fill="#181c2b" stroke="#181c2b"/>
<!-- pants: back leg (thigh + shin on floor) -->
<path d="M698.6,430 L731.5,432 L741,447 L747.5,465 L751.5,474 L751,485.5 Q745,488 738,486 L716,478.5 L697.4,474.5 L697.2,462 L716,462.8 Q705,452 700,440 Z" fill="#514eea" stroke="#1e1a6e"/>
<!-- pants: front leg -->
<path d="M731.5,432 Q736,426 742,421.8 Q754,419.5 764.5,421.5 Q772,424 772.2,432 L767,450 L762.2,474.5 L750.5,473.5 L749.5,444.5 L755,440.5 L737,445.5 Z" fill="#514eea" stroke="#1e1a6e"/>
<!-- torso -->
<path d="M734,368 C724,372 716,380 710,392 C704,404 700,418 698.5,430 Q715,434 731.5,432 L741.8,421.5 L746,408 L752,397 L751,385 L746,377 L742,373 Z" fill="#ea851d"/>
<!-- sleeve -->
<path d="M741.5,373.5 Q747,378 749,384 L751,395.5 L741.5,408 L731,398 Z" fill="#ea851d"/>
<!-- near arm -->
<path d="M747.5,398 L751.5,397 L778.5,398.5 L780.5,410 L762,415.5 Q751,414 741.5,408.5 Z" fill="#fefefe"/>
<path d="M777.5,398.5 Q782,395.5 787,398 Q791.5,401 791,406 Q790,411 784,411.5 L779,410.5 Z" fill="#fefefe"/>
<!-- neck and head -->
<path d="M738,364 L735,370.5 L742.5,375 L746,368 Z" fill="#fefefe"/>
<path d="M744,350.5 L754.5,349.5 L755.2,356 L757.2,360.5 L755,361.5 L754.8,366 Q753,369.8 749,369.5 L741.5,367 L738.5,360 Z" fill="#fefefe"/>
<path d="M731.5,351.5 L745,350 L744.5,356 L742.5,357.5 L742,361 Q739,365.5 735.5,364.5 Q732,359 731.5,351.5 Z" fill="#181c2b" stroke="#181c2b" stroke-width="1"/>
<!-- cap -->
<path d="M731,351.8 C729,345 732.5,338 740,335.4 C747,333.5 754,335.5 757.5,341.2 L765.5,344.3 Q767.3,347 764.5,348.2 L751.5,350 L740,351.2 Z" fill="#ea851d"/>
<path d="M757.5,341.2 Q755,346 751.5,350" fill="none" stroke-width="1.1"/>
</g>
<!-- standing worker -->
<g stroke="#151826" stroke-width="1.4" stroke-linejoin="round" stroke-linecap="round">
<!-- shoes -->
<path d="M1049,473.5 L1065,473.8 L1065,482.3 Q1050,484 1038.5,482.5 Q1036,478.5 1040,476.5 Z" fill="#181c2b" stroke="#181c2b"/>
<path d="M1072,476.5 L1087.6,476.5 L1087.8,487.5 Q1074,490 1061.5,488.8 Q1058.5,484 1063,481.5 Z" fill="#181c2b" stroke="#181c2b"/>
<!-- pants -->
<path d="M1047.2,370.5 H1084 L1085.5,420 L1087.4,476.3 L1072.5,476.5 L1067,441 L1065,474.8 L1049.7,473.8 L1048.5,420 Z" fill="#514eea" stroke="#1e1a6e"/>
<path d="M1063,392 Q1066,420 1067,441" fill="none" stroke="#1e1a6e" stroke-width="1.1"/>
<!-- far arm reaching up -->
<path d="M1021.8,272 L1027,267.5 L1040.5,295 L1037.5,310 L1028,299 Z" fill="#fefefe"/>
<path d="M1018.2,264 Q1018,259 1021,257.8 L1025.5,263 L1027.5,268.5 L1022.5,273.5 Z" fill="#fefefe"/>
<!-- torso -->
<path d="M1040,296.5 L1059,296 L1072,296 Q1079,298 1081.5,304 Q1086,314 1086.6,322 L1085.3,342 L1084,370.8 H1047.2 V341.5 L1049,330 L1037,310 Z" fill="#ea851d"/>
<!-- collar -->
<path d="M1056.2,299.5 L1067.5,294.5 L1074,298.5 L1061.5,306 Z" fill="#ea851d"/>
<path d="M1059,303 L1060,312" fill="none" stroke-width="1.1"/>
<!-- near sleeve -->
<path d="M1062,306 L1074,316 L1064.5,334 L1055.5,322 Z" fill="#ea851d"/>
<!-- near arm -->
<path d="M1056.3,322 L1025.8,317.2 L1024.2,327.6 L1048.5,340.4 L1064,333.5 Z" fill="#fefefe"/>
<path d="M1025.8,317 Q1021,312.5 1016.5,314.5 Q1013.5,318 1015,323 Q1018,328 1024.3,327.6 Z" fill="#fefefe"/>
<!-- neck and head -->
<path d="M1060.5,293 L1059.8,301 L1067.5,295.5 L1068,288 Z" fill="#fefefe"/>
<path d="M1051.5,269.5 L1050.8,277 L1048,285.6 L1050.5,286.5 L1050.6,291 Q1052,295 1056,294.6 L1064,291 L1067,279 L1062,268 Z" fill="#fefefe"/>
<path d="M1048.8,268.5 Q1052,262.5 1060,261.6 Q1070,261 1075.5,267 Q1078,274 1075,283 Q1073,288 1070.5,289.5 L1065.5,287 L1064.5,280 L1061.5,278.5 L1060.5,271 Q1054,271.5 1048.8,268.5 Z" fill="#181c2b" stroke="#181c2b" stroke-width="1"/>
</g>
<!-- fixtures in shower -->
<g stroke="#17134f" stroke-width="1.5" stroke-linejoin="round" stroke-linecap="round">
<!-- shower head -->
<path d="M1003.5,207.5 C995,207 990,212 986.5,218.5" fill="none" stroke-width="6"/>
<path d="M1003.5,207.5 C995,207 990,212 986.5,218.5" fill="none" stroke="#4540c0" stroke-width="3.2"/>
<ellipse cx="1005.6" cy="209.2" rx="3" ry="6" fill="#4540c0" transform="rotate(8 1005.6 209.2)"/>
<path d="M983,214.5 L990,219 L991,230 L974,218 Z" fill="#4540c0"/>
<ellipse cx="980.4" cy="225.2" rx="13.6" ry="5.4" fill="#3d38b0" transform="rotate(33.5 980.4 225.2)"/>
<ellipse cx="979.6" cy="226.5" rx="11.6" ry="3.9" fill="#605bea" stroke-width="1" transform="rotate(33.5 979.6 226.5)"/>
<!-- left valve -->
<ellipse cx="811.4" cy="328.6" rx="8.4" ry="14.8" fill="#3d38b0"/>
<ellipse cx="813.6" cy="328.6" rx="7.2" ry="13.4" fill="#4f4ad8" stroke-width="1.2"/>
<path d="M813,327 H822 Q825,327 825,330 V340" fill="none" stroke-width="6.4"/>
<path d="M813,327 H822 Q825,327 825,330 V340" fill="none" stroke="#4f4ad8" stroke-width="3.4"/>
<!-- right valve -->
<ellipse cx="1005.2" cy="328.8" rx="5.6" ry="13.2" fill="#3d38b0" transform="rotate(8 1005.2 328.8)"/>
<ellipse cx="1003.6" cy="328.8" rx="4.6" ry="11.8" fill="#4f4ad8" stroke-width="1.2" transform="rotate(8 1003.6 328.8)"/>
<path d="M1003.5,327.5 H999 Q996.6,327.5 996.6,330 V338.5" fill="none" stroke-width="5.6"/>
<path d="M1003.5,327.5 H999 Q996.6,327.5 996.6,330 V338.5" fill="none" stroke="#4f4ad8" stroke-width="2.8"/>
</g>
<!-- right mascot -->
<g stroke-linejoin="round" stroke-linecap="round">
<!-- arms -->
<path d="M890.6,410 L883.3,423" stroke="#151826" stroke-width="3.6" fill="none"/>
<path d="M945,410 L953.2,423" stroke="#151826" stroke-width="3.6" fill="none"/>
<path d="M865.5,412.5 Q869,408.5 873.5,410.5 L886.5,419.5 Q889,423.5 886,427.5 Q882.5,430 879,428.5 L866,420.5 Q863.5,416.5 865.5,412.5 Z" fill="#fefefe" stroke="#151826" stroke-width="1.5"/>
<path d="M971,412.5 Q967.5,408.5 963,410.5 L950,419.5 Q947.5,423.5 950.5,427.5 Q954,430 957.5,428.5 L970.5,420.5 Q973,416.5 971,412.5 Z" fill="#fefefe" stroke="#151826" stroke-width="1.5"/>
<path d="M869.5,421.5 L873.5,412 M873,424 L877,414" stroke="#151826" stroke-width="1.1" fill="none"/>
<path d="M967,421.5 L963,412 M963.5,424 L959.5,414" stroke="#151826" stroke-width="1.1" fill="none"/>
<!-- fists -->
<path d="M852,403.5 Q855,401 861,402 L866,403 L867.8,417.5 Q862,420 855,419 Q850.5,417 851,412 Q850,407 852,403.5 Z" fill="#fefefe" stroke="#151826" stroke-width="1.5"/>
<path d="M851.5,407.5 H859 M851,411.5 H859 M851.5,415.5 H859" stroke="#151826" stroke-width="1.1" fill="none"/>
<path d="M861.6,397 Q864.8,392.5 868,397 L869.6,413 Q866.5,416.5 863.2,413 Z" fill="#181c2b"/>
<path d="M984.5,403.5 Q981.5,401 975.5,402 L970.5,403 L968.7,417.5 Q974.5,420 981.5,419 Q986,417 985.5,412 Q986.5,407 984.5,403.5 Z" fill="#fefefe" stroke="#151826" stroke-width="1.5"/>
<path d="M985,407.5 H977.5 M985.5,411.5 H977.5 M985,415.5 H977.5" stroke="#151826" stroke-width="1.1" fill="none"/>
<path d="M974.9,397 Q971.7,392.5 968.5,397 L966.9,413 Q970,416.5 973.3,413 Z" fill="#181c2b"/>
</g>
<use href="#mbody" transform="translate(435.3,-18.1) scale(1,1.0455)"/>
<circle cx="892.7" cy="405.2" r="4.8" fill="#fefefe" stroke="#151826" stroke-width="1.4"/>
<circle cx="943.8" cy="405.2" r="4.8" fill="#fefefe" stroke="#151826" stroke-width="1.4"/>
<!-- belt hammer -->
<path d="M935.5,432 Q944,429.5 949,434 Q951.5,437.5 951,441 Q947.5,436.5 942,437 L935.5,437.5 Z" fill="#fefefe" stroke="#151826" stroke-width="1.2" stroke-linejoin="round"/>
<use href="#mhead" transform="translate(432.2,-0.5)"/>
<!-- tools on floor -->
<g stroke="#151826" stroke-width="1.4" stroke-linejoin="round" stroke-linecap="round">
<!-- tall roll -->
<path d="M1147.5,325 H1151.8 V445 H1147.5 Z" fill="#d6d8e2"/>
<path d="M1127,326 Q1127,321.8 1131,321.8 H1143.5 Q1147.5,321.8 1147.5,326 V445 H1127 Z" fill="#fefefe"/>
<!-- toolbox handle -->
<path d="M1113.3,442.5 V434.5 Q1113.3,430.8 1117,430.8 H1136.3 Q1140,430.8 1140,434.5 V442.5 H1135.4 V437 Q1135.4,435.6 1134,435.6 H1119.3 Q1117.9,435.6 1117.9,437 V442.5 Z" fill="#514eea" stroke="#1e1a6e"/>
<!-- toolbox -->
<path d="M1095,455 H1159.2 V474.5 Q1159.2,477.6 1156,477.6 H1098.2 Q1095,477.6 1095,474.5 Z" fill="#ea851d"/>
<rect x="1092.5" y="442.5" width="69.2" height="13.4" rx="3" fill="#ea851d"/>
<rect x="1105.8" y="450" width="5.8" height="10.8" rx="1.6" fill="#fefefe" stroke-width="1.2"/>
<rect x="1140.8" y="450" width="5.8" height="10.8" rx="1.6" fill="#fefefe" stroke-width="1.2"/>
<!-- tape roll -->
<path d="M1101.7,491 V499.5 Q1101.7,505 1126.7,505 Q1151.7,505 1151.7,499.5 V491 Z" fill="#fefefe"/>
<ellipse cx="1126.7" cy="491" rx="25" ry="5.6" fill="#fefefe"/>
<ellipse cx="1126.7" cy="490.6" rx="12.2" ry="2.8" fill="#e6e7f0" stroke-width="1.2"/>
<path d="M1110,496.8 Q1113,498 1116.5,498.3 V503.5 Q1113,503 1110,502" fill="#fefefe" stroke-width="1.2"/>
<!-- screwdriver -->
<path d="M1013,491.6 L1030,496" fill="none" stroke-width="3.6"/>
<path d="M1013,491.6 L1030,496" fill="none" stroke="#f0f1f6" stroke-width="1.4"/>
<path d="M1028.5,493.4 L1035.8,496.4 Q1036.2,498 1034.5,498.2 L1028,497.6 Z" fill="#f0f1f6" stroke-width="1.1"/>
<path d="M989.5,483.8 Q987.5,484.6 987.8,487.4 Q988,489.8 990,490.6 L1009,495.6 L1011,488.6 Z" fill="#514eea" stroke="#1e1a6e"/>
<path d="M1009.4,487.6 L1013.6,488.8 L1012,496 L1007.8,494.8 Z" fill="#3d38b0" stroke="#1e1a6e" stroke-width="1.2"/>
<!-- hammer -->
<path d="M785.5,496.2 L800.5,492.6 L801.6,496.4 L786.5,500.4 Z" fill="#fefefe" stroke-width="1.2"/>
<path d="M762.8,501.8 Q760.6,502.6 761,505.2 Q761.5,508 764,508.2 L786.6,501.8 L785,495.8 Z" fill="#ea851d"/>
<path d="M796.3,485.6 Q798,483.6 801,484 Q808,485.2 812,491 Q815,495 815.5,498 Q818,500.5 816.5,502.5 Q813,504.5 810.5,503.6 Q809.5,502.4 809.6,500.6 L804.8,497.4 L800.6,498.2 L798.6,491.6 L800.5,489.6 Q798,488.4 796.3,485.6 Z" fill="#fefefe"/>
<path d="M799,487.2 Q801.6,487 803.4,488.6" fill="none" stroke-width="1"/>
<!-- wrench -->
<path d="M824.5,488.2 H845.8 Q847.8,484.4 852.4,484.4 Q856.6,484.4 858,487.4 L853.5,488.6 Q851.5,491 853.5,493.4 L858,494.6 Q856.6,497.6 852.4,497.6 Q847.8,497.6 845.8,493.8 H824.5 Q822.3,493.6 822.3,491 Q822.3,488.4 824.5,488.2 Z" fill="#d9daec"/>
</g>
<!-- logo -->
<g fill="#14161f">
<text x="484.6" y="608" font-weight="700" font-size="14.6px" textLength="30" lengthAdjust="spacingAndGlyphs" stroke="#14161f" stroke-width="0.9">MR.</text>
<path fill-rule="evenodd" d="M485,612.8 H503 C510.5,612.8 515.3,617 515.3,623 C515.3,627.8 512.3,631.2 507.8,632.6 L516,644.2 H505.8 L498.8,633.6 H494 V644.2 H485 Z M494,620 H502 C505,620 506.5,621.2 506.5,623.2 C506.5,625.2 505,626.4 502,626.4 H494 Z"/>
<path d="M517.3,612.8 H540 V620 H526.2 V625.8 H538.2 L536.6,631.6 H526.2 V636.4 H534.4 L530,644.2 H517.3 Z"/>
<path d="M542.3,612.8 H552.3 L564.6,634 L576,612.8 H587.6 V644.2 H579 V627.2 L569.5,644.2 H560 Z"/>
<path fill-rule="evenodd" d="M606,612.2 C616.4,612.2 623.6,619 623.6,628.5 C623.6,638 616.4,644.8 606,644.8 C595.6,644.8 588.4,638 588.4,628.5 C588.4,619 595.6,612.2 606,612.2 Z M606,620 C601,620 597.4,623.4 597.4,628.5 C597.4,633.6 601,637 606,637 C611,637 614.6,633.6 614.6,628.5 C614.6,623.4 611,620 606,620 Z"/>
<path fill-rule="evenodd" d="M625.4,612.8 H640.5 C650.2,612.8 656.3,619 656.3,628.5 C656.3,638 650.2,644.2 640.5,644.2 H625.4 Z M634.2,620.2 H640 C644.6,620.2 647.3,623.4 647.3,628.5 C647.3,633.6 644.6,636.8 640,636.8 H634.2 Z"/>
<path d="M658.5,612.8 H683.6 V620 H667.2 V625 H681.6 V631.9 H667.2 V637 H684.2 V644.2 H658.5 Z"/>
<path d="M687,612.8 H695.8 V636.8 H715.6 V644.2 H687 Z"/>
</g>
<g fill="#6a55dc">
<rect x="540.4" y="633.6" width="5.2" height="4.9"/><rect x="546.8" y="633.6" width="5.2" height="4.9"/>
<rect x="540.4" y="639.6" width="5.2" height="4.9"/><rect x="546.8" y="639.6" width="5.2" height="4.9"/>
</g>
</svg>
</body></html>
